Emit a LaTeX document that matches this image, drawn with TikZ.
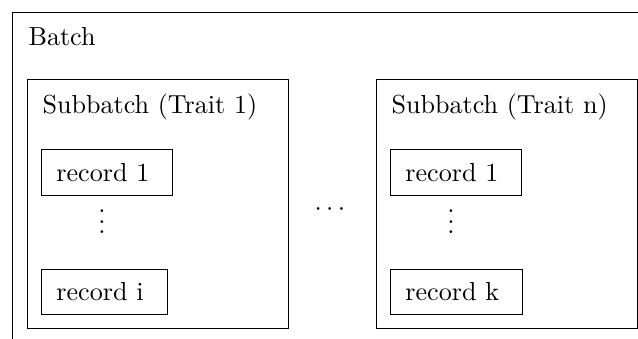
\documentclass[tikz,border=0pt]{standalone}
\usepackage{amsmath}
\usetikzlibrary{positioning}
\tikzset{
	frame/.style={draw, inner sep=0pt, anchor=north west},
	sub/.style={frame, minimum width=100pt, minimum height=95.4pt},
	rec/.style={draw, inner xsep=5.7pt, inner ysep=5.2pt, anchor=north west, execute at end node=\hspace{3.3pt}},
	title/.style={anchor=base west, inner sep=0pt},
	dots/.style={anchor=base, inner sep=0pt},
}
\begin{document}
\begin{tikzpicture}[x=0.3832pt, y=-0.3832pt]
	\useasboundingbox (0,0) rectangle (638,338);
	\clip (0,0) rectangle (638,338);
	\node[frame, minimum width=300pt, minimum height=150pt] (b) at (12,12) {};
	\node[title] (bt) at ([shift={(16,33)}]b.north west) {Batch};
	\node[sub] (s1) at (27,79) {};
	\node[sub] (sn) at (376,79) {};
	\node[title] (s1t) at ([shift={(15,34)}]s1.north west) {Subbatch (Trait 1)};
	\node[title] (snt) at ([shift={(15,34)}]sn.north west) {Subbatch (Trait n)};
	\node[rec] (r1) at ([shift={(14,70)}]s1.north west) {record 1};
	\node[rec, below=28pt of r1.south west, anchor=north west] (ri) {record i};
	\node[rec] (q1) at ([shift={(14,70)}]sn.north west) {record 1};
	\node[rec, below=28pt of q1.south west, anchor=north west] (qk) {record k};
	\node[dots] (v1) at ([shift={(61,38)}]r1.south west) {$\vdots$};
	\node[dots] (vn) at ([shift={(61,38)}]q1.south west) {$\vdots$};
	\node[dots] (h) at (332,215.5) {$\cdots$};
\end{tikzpicture}
\end{document}
